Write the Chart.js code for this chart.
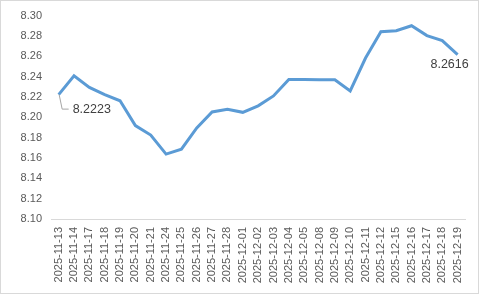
<!DOCTYPE html>
<html>
<head>
<meta charset="utf-8">
<script src="https://cdn.jsdelivr.net/npm/chart.js@4"></script>
<style>
  html, body { margin: 0; padding: 0; background: #fff; }
  #wrap { width: 479px; height: 294px; position: relative; }
</style>
</head>
<body>
<div id="wrap"><canvas id="rateChart" width="479" height="294"></canvas></div>
<script>
let dates = ["2025-11-13","2025-11-14","2025-11-17","2025-11-18","2025-11-19","2025-11-20","2025-11-21",
  "2025-11-24","2025-11-25","2025-11-26","2025-11-27","2025-11-28","2025-12-01","2025-12-02","2025-12-03",
  "2025-12-04","2025-12-05","2025-12-08","2025-12-09","2025-12-10","2025-12-11","2025-12-12","2025-12-15",
  "2025-12-16","2025-12-17","2025-12-18","2025-12-19"];
let rates = [8.2223,8.2408,8.2294,8.2222,8.2162,8.1919,8.1825,8.1638,8.1686,8.1896,8.2052,8.2078,8.2049,8.2113,
  8.2210,8.2372,8.2372,8.2369,8.2369,8.2259,8.2583,8.2841,8.2851,8.2900,8.2803,8.2754,8.2616];
let y_ticks = [8.10,8.12,8.14,8.16,8.18,8.20,8.22,8.24,8.26,8.28,8.30];

const fontName = "'Liberation Sans', Arial, sans-serif";
const textColor = "#595959";

// labels on first and last point + outer frame
const labelPlugin = {
  id: "endLabels",
  afterDatasetsDraw(chart) {
    const ctx = chart.ctx;
    const pts = chart.getDatasetMeta(0).data;
    const first = pts[0];
    const last = pts[pts.length - 1];
    ctx.save();
    ctx.font = "12.5px " + fontName;
    ctx.fillStyle = "#404040";
    ctx.textBaseline = "middle";

    // leader line for first label
    ctx.strokeStyle = "#a6a6a6";
    ctx.lineWidth = 1;
    ctx.beginPath();
    ctx.moveTo(first.x + 0.5, first.y);
    ctx.lineTo(first.x + 3.5, first.y + 14.5);
    ctx.lineTo(first.x + 10, first.y + 14.5);
    ctx.stroke();
    ctx.textAlign = "left";
    ctx.fillText(rates[0].toFixed(4), first.x + 14, first.y + 15);

    ctx.textAlign = "center";
    ctx.fillText(rates[rates.length - 1].toFixed(4), last.x - 8, last.y + 10);

    ctx.strokeStyle = "#d9d9d9";
    ctx.strokeRect(0.5, 0.5, chart.width - 1, chart.height - 1);
    ctx.restore();
  }
};

new Chart("rateChart", {
  type: "line",
  data: {
    labels: dates,
    datasets: [{
      data: rates,
      borderColor: "#5b9bd5",
      borderWidth: 3,
      pointRadius: 0,
      tension: 0,
      fill: false
    }]
  },
  options: {
    responsive: false,
    animation: false,
    layout: { padding: { top: 13, right: 11, left: 0, bottom: 0 } },
    plugins: {
      legend: { display: false },
      tooltip: { enabled: false }
    },
    scales: {
      x: {
        offset: true,
        grid: { display: false, drawTicks: false },
        border: { color: "#d9d9d9", width: 1 },
        ticks: {
          autoSkip: false,
          minRotation: 90,
          maxRotation: 90,
          padding: 8,
          color: textColor,
          font: { family: fontName, size: 11 }
        },
        afterFit(scale) { scale.height = 75; }
      },
      y: {
        min: 8.10,
        max: 8.30,
        afterBuildTicks(scale) { scale.ticks = y_ticks.map(v => ({ value: v })); },
        grid: { display: false, drawTicks: false },
        border: { display: false },
        ticks: {
          padding: 9,
          color: textColor,
          font: { family: fontName, size: 11 },
          callback: v => Number(v).toFixed(2)
        },
        afterFit(scale) { scale.width = 51; }
      }
    }
  },
  plugins: [labelPlugin]
});
</script>
</body>
</html>
